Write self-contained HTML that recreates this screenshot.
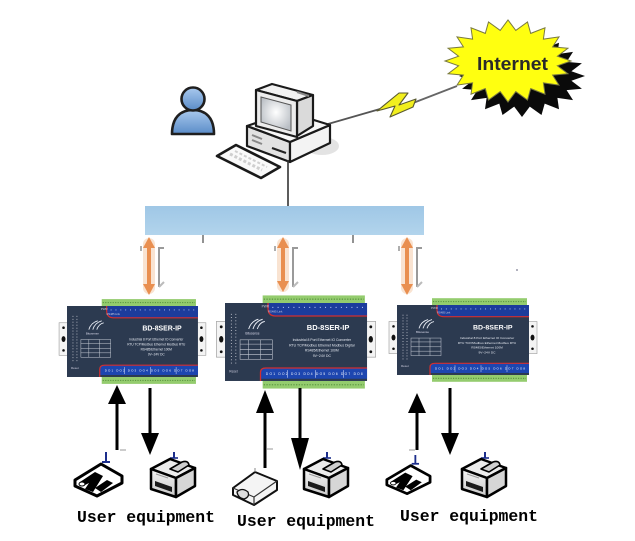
<!DOCTYPE html>
<html>
<head>
<meta charset="utf-8">
<style>
  html,body{margin:0;padding:0;background:#ffffff;}
  body{width:635px;height:541px;overflow:hidden;}
  svg{display:block;}
  .mono{font-family:"Liberation Mono","DejaVu Sans Mono",monospace;font-weight:bold;}
  .sans{font-family:"Liberation Sans","DejaVu Sans",sans-serif;}
</style>
</head>
<body>
<svg width="635" height="541" viewBox="0 0 635 541" xmlns="http://www.w3.org/2000/svg">
  <defs>
    <radialGradient id="scr" cx="0.5" cy="0.45" r="0.6">
      <stop offset="0" stop-color="#ffffff"/>
      <stop offset="1" stop-color="#b9bec4"/>
    </radialGradient>
    <linearGradient id="per" x1="0" y1="0" x2="0" y2="1">
      <stop offset="0" stop-color="#a9c9ee"/>
      <stop offset="1" stop-color="#5a8cc8"/>
    </linearGradient>
    <linearGradient id="bar" x1="0" y1="0" x2="0" y2="1">
      <stop offset="0" stop-color="#9fc7e6"/>
      <stop offset="1" stop-color="#b2d4ec"/>
    </linearGradient>
    <linearGradient id="prn" x1="0" y1="0" x2="0" y2="1">
      <stop offset="0" stop-color="#f4f4f4"/>
      <stop offset="1" stop-color="#c9c9c9"/>
    </linearGradient>
  </defs>

  <rect x="0" y="0" width="635" height="541" fill="#ffffff"/>

  <!-- ===== Internet starburst ===== -->
  <polygon transform="translate(14,15)" fill="#0a0a0a" points="571,61 557.4,65.8 567.9,73.7 552.6,75.1 559,85.1 543.4,82.9 545,94.2 530.7,88.6 527.5,100 515.8,91.6 508,102 500.2,91.6 488.5,100 485.3,88.6 471,94.2 472.6,82.9 457,85.1 463.4,75.1 448.1,73.7 458.6,65.8 445,61 458.6,56.2 448.1,48.3 463.4,46.9 457,36.9 472.6,39.1 471,27.8 485.3,33.4 488.5,22 500.2,30.4 508,20 515.8,30.4 527.5,22 530.7,33.4 545,27.8 543.4,39.1 559,36.9 552.6,46.9 567.9,48.3 557.4,56.2"/>
  <polygon fill="#ffff10" stroke="#7a7a40" stroke-width="1" stroke-linejoin="miter" points="571,61 557.4,65.8 567.9,73.7 552.6,75.1 559,85.1 543.4,82.9 545,94.2 530.7,88.6 527.5,100 515.8,91.6 508,102 500.2,91.6 488.5,100 485.3,88.6 471,94.2 472.6,82.9 457,85.1 463.4,75.1 448.1,73.7 458.6,65.8 445,61 458.6,56.2 448.1,48.3 463.4,46.9 457,36.9 472.6,39.1 471,27.8 485.3,33.4 488.5,22 500.2,30.4 508,20 515.8,30.4 527.5,22 530.7,33.4 545,27.8 543.4,39.1 559,36.9 552.6,46.9 567.9,48.3 557.4,56.2"/>
  <text x="477" y="70" class="sans" font-size="18" font-weight="bold" fill="#2a2a2a" textLength="71" lengthAdjust="spacingAndGlyphs">Internet</text>

  <!-- ===== link PC -> Internet with lightning ===== -->
  <line x1="328" y1="124" x2="380" y2="109" stroke="#ffffff" stroke-width="4"/>
  <line x1="328" y1="124" x2="380" y2="109" stroke="#555" stroke-width="1.8"/>
  <line x1="413" y1="103" x2="457" y2="86" stroke="#ffffff" stroke-width="4"/>
  <line x1="413" y1="103" x2="457" y2="86" stroke="#666" stroke-width="1.8"/>
  <polygon points="377,111 399,93 408,93 399,105 416,99 413,107 390,117 395,106" fill="#f2ef1e" stroke="#5a5a30" stroke-width="1.1" stroke-linejoin="round"/>

  <!-- ===== person ===== -->
  <path d="M172,134 C172,118 180,110 193,110 C206,110 214,118 214,134 Z" fill="url(#per)" stroke="#1f1f1f" stroke-width="2.6" stroke-linejoin="round"/>
  <circle cx="193" cy="99" r="11.5" fill="url(#per)" stroke="#1f1f1f" stroke-width="2.6"/>

  <!-- ===== PC ===== -->
  <ellipse cx="322" cy="146" rx="17" ry="9" fill="#dcdcdc" opacity="0.8"/>
  <polygon points="247,126 290,142 290,162 247,146" fill="#e2e2e2" stroke="#1a1a1a" stroke-width="2.2" stroke-linejoin="round"/>
  <polygon points="290,142 330,125 330,143 290,162" fill="#f3f3f3" stroke="#1a1a1a" stroke-width="2.2" stroke-linejoin="round"/>
  <polygon points="247,126 288,112 330,125 290,142" fill="#f7f7f7" stroke="#1a1a1a" stroke-width="2.2" stroke-linejoin="round"/>
  <line x1="252" y1="135" x2="262" y2="139" stroke="#888" stroke-width="2"/>
  <line x1="252" y1="140" x2="262" y2="144" stroke="#888" stroke-width="2"/>
  <line x1="272" y1="148" x2="286" y2="153" stroke="#222" stroke-width="2"/>
  <polygon points="256,90 272,84 313,95 297,101" fill="#f2f2f2" stroke="#1a1a1a" stroke-width="2.2" stroke-linejoin="round"/>
  <polygon points="297,101 313,95 313,126 297,136" fill="#dadada" stroke="#1a1a1a" stroke-width="2.2" stroke-linejoin="round"/>
  <polygon points="256,90 297,101 297,137 256,126" fill="#ececec" stroke="#1a1a1a" stroke-width="2.2" stroke-linejoin="round"/>
  <polygon points="261,97 291,105 291,131 261,122" fill="url(#scr)" stroke="#555" stroke-width="1"/>
  <line x1="297" y1="92" x2="309" y2="96" stroke="#888" stroke-width="2"/>
  <polygon points="217,156 236,145 280,167 261,178" fill="#fafafa" stroke="#1a1a1a" stroke-width="2.6" stroke-linejoin="round"/>
  <line x1="230" y1="154" x2="262" y2="170" stroke="#cfcfcf" stroke-width="3" stroke-dasharray="3 2"/>
  <line x1="235" y1="151" x2="267" y2="167" stroke="#cfcfcf" stroke-width="2" stroke-dasharray="3 2"/>

  <line x1="288" y1="160" x2="288" y2="206" stroke="#333" stroke-width="1.6"/>

  <!-- ===== blue network bar ===== -->
  <rect x="145" y="206" width="279" height="29" fill="url(#bar)"/>
  <line x1="203" y1="235" x2="203" y2="243" stroke="#777" stroke-width="1.6"/>
  <line x1="353" y1="235" x2="353" y2="243" stroke="#777" stroke-width="1.6"/>

  <!-- ===== orange double arrows ===== -->
  <g>
    <rect x="143" y="238" width="12" height="56" rx="6" fill="#f8dcc6" opacity="0.8"/>
    <line x1="149" y1="246" x2="149" y2="286" stroke="#e98f50" stroke-width="4"/>
    <polygon points="149,237 143,248 155,248" fill="#e98f50"/>
    <polygon points="149,295 143,284 155,284" fill="#e98f50"/>
    <polyline points="164,248 159,248 159,287" fill="none" stroke="#9a9a9a" stroke-width="2"/>
    <line x1="159" y1="287" x2="164" y2="282" stroke="#bbb" stroke-width="2"/>
    <line x1="141" y1="246" x2="141" y2="251" stroke="#999" stroke-width="1.6"/>
  </g>
  <g>
    <rect x="277" y="238" width="12" height="54" rx="6" fill="#f8dcc6" opacity="0.8"/>
    <line x1="283" y1="246" x2="283" y2="283" stroke="#e98f50" stroke-width="4"/>
    <polygon points="283,237 277,248 289,248" fill="#e98f50"/>
    <polygon points="283,292 277,281 289,281" fill="#e98f50"/>
    <polyline points="298,248 293,248 293,287" fill="none" stroke="#9a9a9a" stroke-width="2"/>
    <line x1="293" y1="287" x2="298" y2="282" stroke="#bbb" stroke-width="2"/>
    <line x1="275" y1="246" x2="275" y2="251" stroke="#999" stroke-width="1.6"/>
  </g>
  <g>
    <rect x="401" y="238" width="12" height="56" rx="6" fill="#f8dcc6" opacity="0.8"/>
    <line x1="407" y1="246" x2="407" y2="286" stroke="#e98f50" stroke-width="4"/>
    <polygon points="407,237 401,248 413,248" fill="#e98f50"/>
    <polygon points="407,295 401,284 413,284" fill="#e98f50"/>
    <polyline points="422,248 417,248 417,287" fill="none" stroke="#9a9a9a" stroke-width="2"/>
    <line x1="417" y1="287" x2="422" y2="282" stroke="#bbb" stroke-width="2"/>
    <line x1="399" y1="246" x2="399" y2="251" stroke="#999" stroke-width="1.6"/>
  </g>
  <circle cx="517" cy="270" r="1" fill="#99a"/>

  <!-- ===== Device 1 ===== -->
  <g transform="translate(67,306) scale(0.992,0.986)">
    <rect x="35" y="-7" width="95" height="7" fill="#94cc6e"/>
    <line x1="36" y1="-3.5" x2="129" y2="-3.5" stroke="#5f9a45" stroke-width="1.2" stroke-dasharray="1.2 1.3"/>
    <rect x="35" y="72" width="95" height="7" fill="#94cc6e"/>
    <line x1="36" y1="75.5" x2="129" y2="75.5" stroke="#5f9a45" stroke-width="1.2" stroke-dasharray="1.2 1.3"/>
    <rect x="-8" y="17" width="9" height="33" fill="#f4f4f4" stroke="#999" stroke-width="0.6"/>
    <circle cx="-3.5" cy="22" r="1.3" fill="#111"/><ellipse cx="-3.5" cy="33.5" rx="2" ry="3" fill="#111"/><circle cx="-3.5" cy="45" r="1.3" fill="#111"/>
    <rect x="131" y="17" width="9" height="33" fill="#f4f4f4" stroke="#999" stroke-width="0.6"/>
    <circle cx="135.5" cy="22" r="1.3" fill="#111"/><ellipse cx="135.5" cy="33.5" rx="2" ry="3" fill="#111"/><circle cx="135.5" cy="45" r="1.3" fill="#111"/>
    <rect x="0" y="0" width="132" height="72" fill="#2c3a50"/>
    <path d="M40,0 H132 V12 H47 Q40,12 40,5 Z" fill="#1c3c9c"/>
    <path d="M40,0 V5 Q40,12 47,12 H132" fill="none" stroke="#d32f2f" stroke-width="1.2"/>
    <line x1="44" y1="4" x2="130" y2="4" stroke="#c8d4ff" stroke-width="0.9" stroke-dasharray="0.9 4"/>
    <text x="34" y="4" class="sans" font-size="3" fill="#ccd">PWR</text>
    <text x="40" y="9" class="sans" font-size="2.6" fill="#ccd">RS485 Link</text>
    <line x1="6" y1="10" x2="6" y2="56" stroke="#b8bcc6" stroke-width="1" stroke-dasharray="0.9 2.1"/>
    <line x1="10" y1="10" x2="10" y2="56" stroke="#b8bcc6" stroke-width="1" stroke-dasharray="0.9 2.1"/>
    <text x="4" y="64" class="sans" font-size="3" fill="#ccd">Reset</text>
    <path d="M22,24 Q24,17 31,15 M26,24 Q28,17 35,15 M30,24 Q32,18 37,17" fill="none" stroke="#e8ecf4" stroke-width="0.9"/>
    <text x="19" y="29" class="sans" font-size="3" fill="#dde">Bitusense</text>
    <text x="76" y="25" class="sans" font-size="7" font-weight="bold" fill="#ffffff">BD-8SER-IP</text>
    <text x="90" y="35" class="sans" font-size="3.2" fill="#e4e8f0" text-anchor="middle">Industrial 8 Port Ethernet IO Converter</text>
    <text x="90" y="40" class="sans" font-size="3.2" fill="#e4e8f0" text-anchor="middle">RTU TCP/Modbus Ethernet Modbus RTU</text>
    <text x="90" y="45" class="sans" font-size="3.2" fill="#e4e8f0" text-anchor="middle">RS485/Ethernet 100M</text>
    <text x="90" y="50" class="sans" font-size="3.2" fill="#e4e8f0" text-anchor="middle">9V~24V DC</text>
    <rect x="14" y="34" width="30" height="18" fill="none" stroke="#c7ccd6" stroke-width="0.5"/>
    <line x1="14" y1="38" x2="44" y2="38" stroke="#c7ccd6" stroke-width="0.5"/>
    <line x1="14" y1="43" x2="44" y2="43" stroke="#c7ccd6" stroke-width="0.5"/>
    <line x1="14" y1="47.5" x2="44" y2="47.5" stroke="#c7ccd6" stroke-width="0.5"/>
    <line x1="22" y1="34" x2="22" y2="52" stroke="#c7ccd6" stroke-width="0.5"/>
    <line x1="33" y1="34" x2="33" y2="52" stroke="#c7ccd6" stroke-width="0.5"/>
    <path d="M33,72 V64 Q33,60 38,60 H132 V70 H33 Z" fill="#1d46b0"/>
    <path d="M33,72 V64 Q33,60 38,60 H132" fill="none" stroke="#d32f2f" stroke-width="1.2"/>
    <text x="83" y="66.5" class="sans" font-size="3" fill="#ffffff" text-anchor="middle" textLength="90">DO1  DO2  DO3  DO4  DO5  DO6  DO7  DO8</text>
    <line x1="58" y1="62" x2="58" y2="69" stroke="#dfe6ff" stroke-width="0.5"/>
    <line x1="84" y1="62" x2="84" y2="69" stroke="#dfe6ff" stroke-width="0.5"/>
    <line x1="110" y1="62" x2="110" y2="69" stroke="#dfe6ff" stroke-width="0.5"/>
  </g>

  <!-- ===== Device 2 ===== -->
  <g transform="translate(225,303) scale(1.076,1.083)">
    <rect x="35" y="-7" width="95" height="7" fill="#94cc6e"/>
    <line x1="36" y1="-3.5" x2="129" y2="-3.5" stroke="#5f9a45" stroke-width="1.2" stroke-dasharray="1.2 1.3"/>
    <rect x="35" y="72" width="95" height="7" fill="#94cc6e"/>
    <line x1="36" y1="75.5" x2="129" y2="75.5" stroke="#5f9a45" stroke-width="1.2" stroke-dasharray="1.2 1.3"/>
    <rect x="-8" y="17" width="9" height="33" fill="#f4f4f4" stroke="#999" stroke-width="0.6"/>
    <circle cx="-3.5" cy="22" r="1.3" fill="#111"/><ellipse cx="-3.5" cy="33.5" rx="2" ry="3" fill="#111"/><circle cx="-3.5" cy="45" r="1.3" fill="#111"/>
    <rect x="131" y="17" width="9" height="33" fill="#f4f4f4" stroke="#999" stroke-width="0.6"/>
    <circle cx="135.5" cy="22" r="1.3" fill="#111"/><ellipse cx="135.5" cy="33.5" rx="2" ry="3" fill="#111"/><circle cx="135.5" cy="45" r="1.3" fill="#111"/>
    <rect x="0" y="0" width="132" height="72" fill="#2c3a50"/>
    <path d="M40,0 H132 V12 H47 Q40,12 40,5 Z" fill="#1c3c9c"/>
    <path d="M40,0 V5 Q40,12 47,12 H132" fill="none" stroke="#d32f2f" stroke-width="1.2"/>
    <line x1="44" y1="4" x2="130" y2="4" stroke="#c8d4ff" stroke-width="0.9" stroke-dasharray="0.9 4"/>
    <text x="34" y="4" class="sans" font-size="3" fill="#ccd">PWR</text>
    <text x="40" y="9" class="sans" font-size="2.6" fill="#ccd">RS485 Link</text>
    <line x1="6" y1="10" x2="6" y2="56" stroke="#b8bcc6" stroke-width="1" stroke-dasharray="0.9 2.1"/>
    <line x1="10" y1="10" x2="10" y2="56" stroke="#b8bcc6" stroke-width="1" stroke-dasharray="0.9 2.1"/>
    <text x="4" y="64" class="sans" font-size="3" fill="#ccd">Reset</text>
    <path d="M22,24 Q24,17 31,15 M26,24 Q28,17 35,15 M30,24 Q32,18 37,17" fill="none" stroke="#e8ecf4" stroke-width="0.9"/>
    <text x="19" y="29" class="sans" font-size="3" fill="#dde">Bitusense</text>
    <text x="76" y="25" class="sans" font-size="7" font-weight="bold" fill="#ffffff">BD-8SER-IP</text>
    <text x="90" y="35" class="sans" font-size="3.2" fill="#e4e8f0" text-anchor="middle">Industrial 8 Port Ethernet IO Converter</text>
    <text x="90" y="40" class="sans" font-size="3.2" fill="#e4e8f0" text-anchor="middle">RTU TCP/Modbus Ethernet Modbus Digital</text>
    <text x="90" y="45" class="sans" font-size="3.2" fill="#e4e8f0" text-anchor="middle">RS485/Ethernet 100M</text>
    <text x="90" y="50" class="sans" font-size="3.2" fill="#e4e8f0" text-anchor="middle">9V~24V DC</text>
    <rect x="14" y="34" width="30" height="18" fill="none" stroke="#c7ccd6" stroke-width="0.5"/>
    <line x1="14" y1="38" x2="44" y2="38" stroke="#c7ccd6" stroke-width="0.5"/>
    <line x1="14" y1="43" x2="44" y2="43" stroke="#c7ccd6" stroke-width="0.5"/>
    <line x1="14" y1="47.5" x2="44" y2="47.5" stroke="#c7ccd6" stroke-width="0.5"/>
    <line x1="22" y1="34" x2="22" y2="52" stroke="#c7ccd6" stroke-width="0.5"/>
    <line x1="33" y1="34" x2="33" y2="52" stroke="#c7ccd6" stroke-width="0.5"/>
    <path d="M33,72 V64 Q33,60 38,60 H132 V70 H33 Z" fill="#1d46b0"/>
    <path d="M33,72 V64 Q33,60 38,60 H132" fill="none" stroke="#d32f2f" stroke-width="1.2"/>
    <text x="83" y="66.5" class="sans" font-size="3" fill="#ffffff" text-anchor="middle" textLength="90">DO1  DO2  DO3  DO4  DO5  DO6  DO7  DO8</text>
    <line x1="58" y1="62" x2="58" y2="69" stroke="#dfe6ff" stroke-width="0.5"/>
    <line x1="84" y1="62" x2="84" y2="69" stroke="#dfe6ff" stroke-width="0.5"/>
    <line x1="110" y1="62" x2="110" y2="69" stroke="#dfe6ff" stroke-width="0.5"/>
  </g>

  <!-- ===== Device 3 ===== -->
  <g transform="translate(397,305) scale(1.0,0.972)">
    <rect x="35" y="-7" width="95" height="7" fill="#94cc6e"/>
    <line x1="36" y1="-3.5" x2="129" y2="-3.5" stroke="#5f9a45" stroke-width="1.2" stroke-dasharray="1.2 1.3"/>
    <rect x="35" y="72" width="95" height="7" fill="#94cc6e"/>
    <line x1="36" y1="75.5" x2="129" y2="75.5" stroke="#5f9a45" stroke-width="1.2" stroke-dasharray="1.2 1.3"/>
    <rect x="-8" y="17" width="9" height="33" fill="#f4f4f4" stroke="#999" stroke-width="0.6"/>
    <circle cx="-3.5" cy="22" r="1.3" fill="#111"/><ellipse cx="-3.5" cy="33.5" rx="2" ry="3" fill="#111"/><circle cx="-3.5" cy="45" r="1.3" fill="#111"/>
    <rect x="131" y="17" width="9" height="33" fill="#f4f4f4" stroke="#999" stroke-width="0.6"/>
    <circle cx="135.5" cy="22" r="1.3" fill="#111"/><ellipse cx="135.5" cy="33.5" rx="2" ry="3" fill="#111"/><circle cx="135.5" cy="45" r="1.3" fill="#111"/>
    <rect x="0" y="0" width="132" height="72" fill="#2c3a50"/>
    <path d="M40,0 H132 V12 H47 Q40,12 40,5 Z" fill="#1c3c9c"/>
    <path d="M40,0 V5 Q40,12 47,12 H132" fill="none" stroke="#d32f2f" stroke-width="1.2"/>
    <line x1="44" y1="4" x2="130" y2="4" stroke="#c8d4ff" stroke-width="0.9" stroke-dasharray="0.9 4"/>
    <text x="34" y="4" class="sans" font-size="3" fill="#ccd">PWR</text>
    <text x="40" y="9" class="sans" font-size="2.6" fill="#ccd">RS485 Link</text>
    <line x1="6" y1="10" x2="6" y2="56" stroke="#b8bcc6" stroke-width="1" stroke-dasharray="0.9 2.1"/>
    <line x1="10" y1="10" x2="10" y2="56" stroke="#b8bcc6" stroke-width="1" stroke-dasharray="0.9 2.1"/>
    <text x="4" y="64" class="sans" font-size="3" fill="#ccd">Reset</text>
    <path d="M22,24 Q24,17 31,15 M26,24 Q28,17 35,15 M30,24 Q32,18 37,17" fill="none" stroke="#e8ecf4" stroke-width="0.9"/>
    <text x="19" y="29" class="sans" font-size="3" fill="#dde">Bitusense</text>
    <text x="76" y="25" class="sans" font-size="7" font-weight="bold" fill="#ffffff">BD-8SER-IP</text>
    <text x="90" y="35" class="sans" font-size="3.2" fill="#e4e8f0" text-anchor="middle">Industrial 8 Port Ethernet IO Converter</text>
    <text x="90" y="40" class="sans" font-size="3.2" fill="#e4e8f0" text-anchor="middle">RTU TCP/Modbus Ethernet Modbus RTU</text>
    <text x="90" y="45" class="sans" font-size="3.2" fill="#e4e8f0" text-anchor="middle">RS485/Ethernet 100M</text>
    <text x="90" y="50" class="sans" font-size="3.2" fill="#e4e8f0" text-anchor="middle">9V~24V DC</text>
    <rect x="14" y="34" width="30" height="18" fill="none" stroke="#c7ccd6" stroke-width="0.5"/>
    <line x1="14" y1="38" x2="44" y2="38" stroke="#c7ccd6" stroke-width="0.5"/>
    <line x1="14" y1="43" x2="44" y2="43" stroke="#c7ccd6" stroke-width="0.5"/>
    <line x1="14" y1="47.5" x2="44" y2="47.5" stroke="#c7ccd6" stroke-width="0.5"/>
    <line x1="22" y1="34" x2="22" y2="52" stroke="#c7ccd6" stroke-width="0.5"/>
    <line x1="33" y1="34" x2="33" y2="52" stroke="#c7ccd6" stroke-width="0.5"/>
    <path d="M33,72 V64 Q33,60 38,60 H132 V70 H33 Z" fill="#1d46b0"/>
    <path d="M33,72 V64 Q33,60 38,60 H132" fill="none" stroke="#d32f2f" stroke-width="1.2"/>
    <text x="83" y="66.5" class="sans" font-size="3" fill="#ffffff" text-anchor="middle" textLength="90">DO1  DO2  DO3  DO4  DO5  DO6  DO7  DO8</text>
    <line x1="58" y1="62" x2="58" y2="69" stroke="#dfe6ff" stroke-width="0.5"/>
    <line x1="84" y1="62" x2="84" y2="69" stroke="#dfe6ff" stroke-width="0.5"/>
    <line x1="110" y1="62" x2="110" y2="69" stroke="#dfe6ff" stroke-width="0.5"/>
  </g>

  <!-- ===== black arrows ===== -->
  <line x1="117" y1="400" x2="117" y2="450" stroke="#000" stroke-width="3"/>
  <polygon points="117,385 108,404 126,404" fill="#000"/>
  <line x1="150" y1="388" x2="150" y2="438" stroke="#000" stroke-width="3"/>
  <polygon points="150,455 141,433 159,433" fill="#000"/>
  <line x1="120" y1="450" x2="126" y2="450" stroke="#999" stroke-width="1"/>
  <line x1="265" y1="405" x2="265" y2="468" stroke="#000" stroke-width="3"/>
  <polygon points="265,390 256,413 274,413" fill="#000"/>
  <line x1="300" y1="388" x2="300" y2="445" stroke="#000" stroke-width="3"/>
  <polygon points="300,470 291,438 309,438" fill="#000"/>
  <line x1="267" y1="449" x2="273" y2="449" stroke="#999" stroke-width="1"/>
  <line x1="417" y1="408" x2="417" y2="450" stroke="#000" stroke-width="3"/>
  <polygon points="417,393 408,413 426,413" fill="#000"/>
  <line x1="450" y1="388" x2="450" y2="438" stroke="#000" stroke-width="3"/>
  <polygon points="450,455 441,433 459,433" fill="#000"/>
  <line x1="409" y1="450" x2="415" y2="450" stroke="#999" stroke-width="1"/>

  <!-- ===== scanner icon 1 ===== -->
  <g transform="translate(73,452)">
    <line x1="33" y1="0" x2="33" y2="10" stroke="#1c2e8c" stroke-width="2"/>
    <line x1="29" y1="10" x2="37" y2="10" stroke="#1c2e8c" stroke-width="2"/>
    <polygon points="2,28 28,12 49,24 49,31 24,44 2,34" fill="#ffffff" stroke="#000" stroke-width="3" stroke-linejoin="round"/>
    <polygon points="7,30 22,20 30,24 20,40 12,37 16,31 12,33" fill="#000"/>
    <polygon points="22,36 34,28 40,31 28,40" fill="#000"/>
    <ellipse cx="9" cy="32" rx="3" ry="2" fill="#fff" stroke="#000" stroke-width="1"/>
  </g>
  <g transform="translate(385,455) scale(0.92,0.88)">
    <line x1="33" y1="0" x2="33" y2="10" stroke="#1c2e8c" stroke-width="2"/>
    <line x1="29" y1="10" x2="37" y2="10" stroke="#1c2e8c" stroke-width="2"/>
    <polygon points="2,28 28,12 49,24 49,31 24,44 2,34" fill="#ffffff" stroke="#000" stroke-width="3" stroke-linejoin="round"/>
    <polygon points="7,30 22,20 30,24 20,40 12,37 16,31 12,33" fill="#000"/>
    <polygon points="22,36 34,28 40,31 28,40" fill="#000"/>
    <ellipse cx="9" cy="32" rx="3" ry="2" fill="#fff" stroke="#000" stroke-width="1"/>
  </g>
  <g transform="translate(232,466)">
    <polygon points="1,22 23,6 45,15 45,24 22,39 1,29" fill="#f4f4f4" stroke="#111" stroke-width="2" stroke-linejoin="round"/>
    <polyline points="1,22 22,31 45,15" fill="none" stroke="#333" stroke-width="1.2"/>
    <line x1="22" y1="31" x2="22" y2="39" stroke="#333" stroke-width="1.2"/>
    <path d="M5,26 Q10,21 16,26 Q18,31 12,33 Q6,32 5,26 Z" fill="#ddd" stroke="#111" stroke-width="1.3"/>
    <line x1="23" y1="2" x2="23" y2="6" stroke="#888" stroke-width="1"/>
  </g>
  <g transform="translate(148,452)">
    <line x1="26" y1="0" x2="26" y2="6" stroke="#1c2e8c" stroke-width="2"/>
    <line x1="22" y1="6" x2="30" y2="6" stroke="#1c2e8c" stroke-width="1.6"/>
    <polygon points="3,17 22,7 47,16 28,26" fill="#ececec" stroke="#000" stroke-width="2.5" stroke-linejoin="round"/>
    <polygon points="3,17 28,26 28,45 3,37" fill="url(#prn)" stroke="#000" stroke-width="2.5" stroke-linejoin="round"/>
    <polygon points="28,26 47,16 47,34 28,45" fill="#d6d6d6" stroke="#000" stroke-width="2.5" stroke-linejoin="round"/>
    <polygon points="7,29 24,35 24,40 7,34" fill="#1a1a1a"/>
    <path d="M22,17 L34,10 Q40,8 41,13 L30,20 Z" fill="#d0d0d0" stroke="#000" stroke-width="1.6" stroke-linejoin="round"/>
    <line x1="8" y1="22" x2="20" y2="26" stroke="#999" stroke-width="1"/>
  </g>
  <g transform="translate(301,452)">
    <line x1="26" y1="0" x2="26" y2="6" stroke="#1c2e8c" stroke-width="2"/>
    <line x1="22" y1="6" x2="30" y2="6" stroke="#1c2e8c" stroke-width="1.6"/>
    <polygon points="3,17 22,7 47,16 28,26" fill="#ececec" stroke="#000" stroke-width="2.5" stroke-linejoin="round"/>
    <polygon points="3,17 28,26 28,45 3,37" fill="url(#prn)" stroke="#000" stroke-width="2.5" stroke-linejoin="round"/>
    <polygon points="28,26 47,16 47,34 28,45" fill="#d6d6d6" stroke="#000" stroke-width="2.5" stroke-linejoin="round"/>
    <polygon points="7,29 24,35 24,40 7,34" fill="#1a1a1a"/>
    <path d="M22,17 L34,10 Q40,8 41,13 L30,20 Z" fill="#d0d0d0" stroke="#000" stroke-width="1.6" stroke-linejoin="round"/>
    <line x1="8" y1="22" x2="20" y2="26" stroke="#999" stroke-width="1"/>
  </g>
  <g transform="translate(459,452)">
    <line x1="26" y1="0" x2="26" y2="6" stroke="#1c2e8c" stroke-width="2"/>
    <line x1="22" y1="6" x2="30" y2="6" stroke="#1c2e8c" stroke-width="1.6"/>
    <polygon points="3,17 22,7 47,16 28,26" fill="#ececec" stroke="#000" stroke-width="2.5" stroke-linejoin="round"/>
    <polygon points="3,17 28,26 28,45 3,37" fill="url(#prn)" stroke="#000" stroke-width="2.5" stroke-linejoin="round"/>
    <polygon points="28,26 47,16 47,34 28,45" fill="#d6d6d6" stroke="#000" stroke-width="2.5" stroke-linejoin="round"/>
    <polygon points="7,29 24,35 24,40 7,34" fill="#1a1a1a"/>
    <path d="M22,17 L34,10 Q40,8 41,13 L30,20 Z" fill="#d0d0d0" stroke="#000" stroke-width="1.6" stroke-linejoin="round"/>
    <line x1="8" y1="22" x2="20" y2="26" stroke="#999" stroke-width="1"/>
  </g>

  <!-- ===== labels ===== -->
  <text x="77" y="522" class="mono" font-size="16.4" fill="#000" textLength="138" lengthAdjust="spacingAndGlyphs">User equipment</text>
  <text x="237" y="526" class="mono" font-size="16.4" fill="#000" textLength="138" lengthAdjust="spacingAndGlyphs">User equipment</text>
  <text x="400" y="521" class="mono" font-size="16.4" fill="#000" textLength="138" lengthAdjust="spacingAndGlyphs">User equipment</text>
</svg>
</body>
</html>
